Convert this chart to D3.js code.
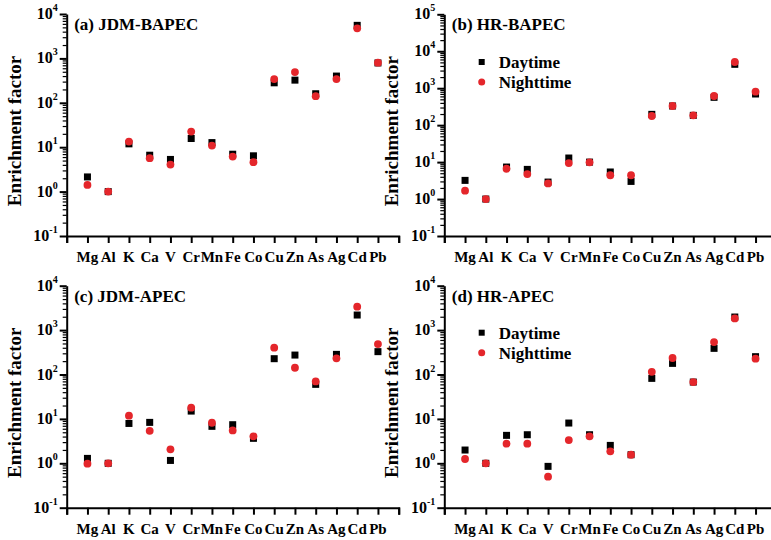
<!DOCTYPE html>
<html><head><meta charset="utf-8">
<script src="https://cdn.jsdelivr.net/npm/d3@7"></script>
<style>body{margin:0;background:#fff}svg{display:block}
svg text{font-family:"Liberation Serif","Times New Roman",Times,"DejaVu Serif",serif;font-weight:bold}</style>
</head><body>
<svg id="c" width="771" height="540"></svg>
<script>
const elements = ["Mg","Al","K","Ca","V","Cr","Mn","Fe","Co","Cu","Zn","As","Ag","Cd","Pb"];
const seriesNames = ["Daytime","Nighttime"];
const titles = ["(a) JDM-BAPEC","(b) HR-BAPEC","(c) JDM-APEC","(d) HR-APEC"];
const yMaxExp = [4,5,4,4];
// panel (a) JDM-BAPEC
const aDay   = [2.14,1.0,11.9,6.6,5.3,15.7,12.7,6.95,6.4,282,324,160,400,5550,790];
const aNight = [1.41,1.0,13.4,5.65,4.06,22.5,10.9,6.15,4.6,342,492,141,342,4750,800];
// panel (b) HR-BAPEC
const bDay   = [3.2,1.0,7.35,6.35,2.88,12.9,10.0,5.4,3.0,196,330,184,566,4430,697];
const bNight = [1.68,1.0,6.6,4.75,2.65,9.4,9.85,4.4,4.4,177,330,184,615,5110,805];
// panel (c) JDM-APEC
const cDay   = [1.29,1.0,7.9,8.35,1.16,15.0,6.8,7.4,3.65,227,274,60,284,2185,327];
const cNight = [0.98,1.0,11.8,5.4,2.06,17.9,8.2,5.5,4.05,402,142,70,231,3365,485];
// panel (d) HR-APEC
const dDay   = [1.99,1.0,4.26,4.4,0.853,8.07,4.4,2.53,1.56,81.8,178,67.6,388,1970,252];
const dNight = [1.25,1.0,2.76,2.76,0.5,3.34,4.05,1.86,1.56,115,235,67.6,538,1835,227];

const panelData = [[aDay,aNight],[bDay,bNight],[cDay,cNight],[dDay,dNight]];
const legendPanels = [1,3];

const RED = "#e4262b";
const svg = d3.select("#c");

const layout = [
  {left:66.7, top:14, bottom:236},
  {left:444.3, top:14.3, bottom:236},
  {left:66.7, top:285.7, bottom:507.7},
  {left:444.3, top:285.7, bottom:507.7}
];
const step = 20.75;

layout.forEach((L, p) => {
  const g = svg.append("g");
  const x = d3.scaleLinear().domain([0, 16]).range([L.left, L.left + 16*step]);
  const y = d3.scaleLog().domain([0.1, Math.pow(10, yMaxExp[p])]).range([L.bottom, L.top]);

  // x axis
  const xAxis = d3.axisBottom(x).tickValues(d3.range(0,17)).tickSize(7).tickFormat("");
  const gx = g.append("g").attr("transform", `translate(0,${L.bottom})`).call(xAxis);
  gx.select(".domain").attr("stroke","#000").attr("stroke-width",2);
  gx.selectAll(".tick line").attr("stroke","#000").attr("stroke-width",2);
  g.selectAll(".xlab").data(elements).enter().append("text")
    .attr("x",(d,i)=>x(i+1)).attr("y",L.bottom+26)
    .attr("text-anchor","middle").style("font-size","15px").attr("fill","#000").text(d=>d);

  // y axis
  const majors = d3.range(-1, yMaxExp[p]+1).map(e=>Math.pow(10,e));
  const minors = [];
  for (let e=-1; e<yMaxExp[p]; e++) for (let k=2;k<=9;k++) minors.push(k*Math.pow(10,e));
  const gyMin = g.append("g").attr("transform",`translate(${L.left},0)`)
    .call(d3.axisLeft(y).tickValues(minors).tickSize(4).tickFormat(""));
  gyMin.select(".domain").remove();
  gyMin.selectAll(".tick line").attr("stroke","#000").attr("stroke-width",1.2);
  const gy = g.append("g").attr("transform",`translate(${L.left},0)`)
    .call(d3.axisLeft(y).tickValues(majors).tickSize(7).tickSizeOuter(0).tickFormat(""));
  gy.select(".domain").attr("stroke","#000").attr("stroke-width",2);
  gy.selectAll(".tick line").attr("stroke","#000").attr("stroke-width",2);
  majors.forEach(v => {
    const e = Math.round(Math.log10(v));
    const t = g.append("text").attr("x", L.left-9).attr("y", y(v)+5)
      .attr("text-anchor","end").style("font-size","16px").attr("fill","#000");
    t.append("tspan").text("10");
    t.append("tspan").style("font-size","10px").attr("dy",-8).text(String(e));
  });

  // y label
  g.append("text").attr("transform",`translate(${L.left-46},${(L.top+L.bottom)/2+6}) rotate(-90)`)
    .attr("text-anchor","middle").style("font-size","19px").attr("fill","#000").text("Enrichment factor");

  // title
  g.append("text").attr("x", L.left+7.5).attr("y", L.top+16)
    .style("font-size","17px").attr("fill","#000").text(titles[p]);

  // markers
  const [day, night] = panelData[p];
  g.selectAll(".sq").data(day).enter().append("rect")
    .attr("x",(d,i)=>x(i+1)-3.5).attr("y",d=>y(d)-3.5)
    .attr("width",7).attr("height",7).attr("fill","#000");
  g.selectAll(".ci").data(night).enter().append("circle")
    .attr("cx",(d,i)=>x(i+1)).attr("cy",d=>y(d)).attr("r",3.9).attr("fill",RED);

  // legend
  if (legendPanels.includes(p)) {
    const ly = p===1 ? 62 : 332.7;
    const lx = L.left + 37.4;
    g.append("rect").attr("x",lx-3).attr("y",ly-3).attr("width",6).attr("height",6).attr("fill","#000");
    g.append("circle").attr("cx",lx).attr("cy",ly+20).attr("r",3.5).attr("fill",RED);
    g.append("text").attr("x",lx+17).attr("y",ly+6).style("font-size","17px").attr("fill","#000").text(seriesNames[0]);
    g.append("text").attr("x",lx+17).attr("y",ly+26).style("font-size","17px").attr("fill","#000").text(seriesNames[1]);
  }
});
</script>
</body></html>
